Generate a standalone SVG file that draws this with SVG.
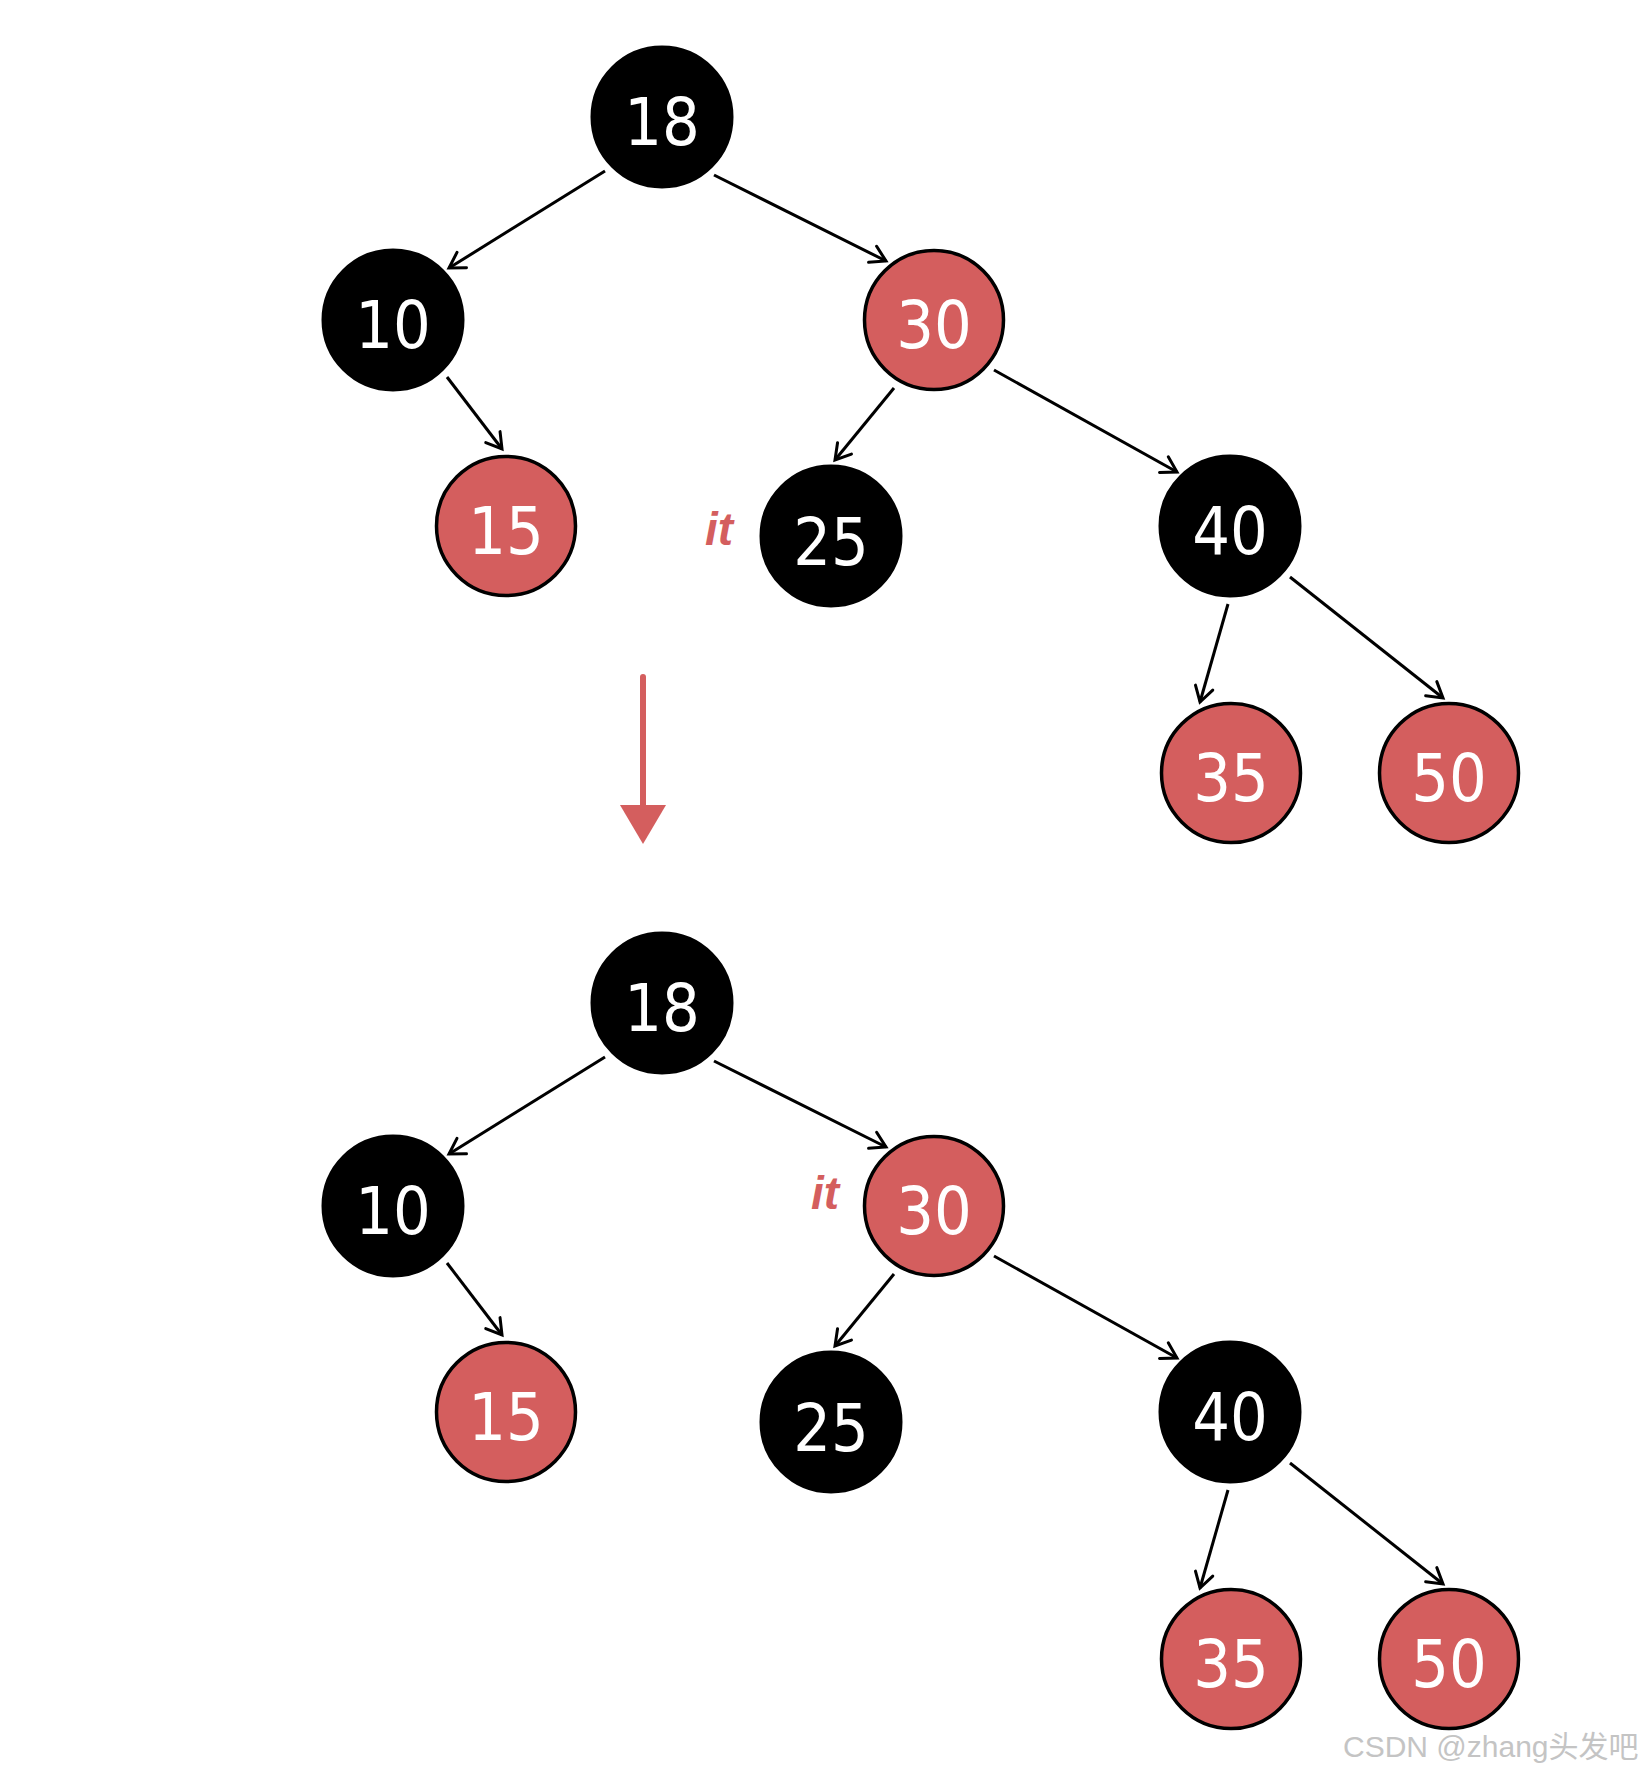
<svg xmlns="http://www.w3.org/2000/svg" width="1640" height="1775" viewBox="0 0 1640 1775">
<style>
.b{fill:#000;stroke:#000;stroke-width:3}
.r{fill:#d45e5e;stroke:#000;stroke-width:3.5}
.n{font-family:"DejaVu Sans Condensed","DejaVu Sans",sans-serif;font-stretch:condensed;font-size:66px;fill:#fff;text-anchor:middle}
.e{stroke:#000;stroke-width:3;fill:none;marker-end:url(#ah)}
.it{font-family:"Liberation Sans",Arial,sans-serif;font-style:italic;font-weight:bold;font-size:46px;fill:#d45e5e}
.wm{font-family:"Liberation Sans","Noto Sans CJK SC",sans-serif;font-size:30px;fill:#c4c4c4}
</style>
<defs>
<marker id="ah" markerUnits="userSpaceOnUse" markerWidth="24" markerHeight="24" viewBox="0 0 24 24" refX="20" refY="12" orient="auto">
<path d="M5,3 L20,12 L5,21" fill="none" stroke="#000" stroke-width="3" stroke-linecap="round" stroke-linejoin="miter"/>
</marker>
</defs>
<g id="connectors">
<line class="e" x1="605" y1="171" x2="449" y2="268"/>
<line class="e" x1="714" y1="175" x2="886" y2="261"/>
<line class="e" x1="447" y1="377" x2="502" y2="449"/>
<line class="e" x1="894" y1="388" x2="835" y2="460"/>
<line class="e" x1="994" y1="370" x2="1177" y2="472"/>
<line class="e" x1="1228" y1="604" x2="1200" y2="702"/>
<line class="e" x1="1290" y1="577" x2="1443" y2="698"/>
<line class="e" x1="605" y1="1057" x2="449" y2="1154"/>
<line class="e" x1="714" y1="1061" x2="886" y2="1147"/>
<line class="e" x1="447" y1="1263" x2="502" y2="1335"/>
<line class="e" x1="894" y1="1274" x2="835" y2="1346"/>
<line class="e" x1="994" y1="1256" x2="1177" y2="1358"/>
<line class="e" x1="1228" y1="1490" x2="1200" y2="1588"/>
<line class="e" x1="1290" y1="1463" x2="1443" y2="1584"/>
</g>
<g id="transition-arrow">
<line x1="643" y1="677" x2="643" y2="810" stroke="#d45e5e" stroke-width="6" stroke-linecap="round"/>
<polygon points="620,805 666,805 643,844" fill="#d45e5e"/>
</g>
<g id="n18a"><circle class="b" cx="662" cy="117" r="70"/><text class="n" x="662" y="145">18</text></g>
<g id="n10a"><circle class="b" cx="393" cy="320" r="70"/><text class="n" x="393" y="348">10</text></g>
<g id="n30a"><circle class="r" cx="934" cy="320" r="69.5"/><text class="n" x="934" y="348">30</text></g>
<g id="n15a"><circle class="r" cx="506" cy="526" r="69.5"/><text class="n" x="506" y="554">15</text></g>
<g id="n25a"><circle class="b" cx="831" cy="536" r="70"/><text class="n" x="831" y="565">25</text></g>
<g id="n40a"><circle class="b" cx="1230" cy="526" r="70"/><text class="n" x="1230" y="554">40</text></g>
<g id="n35a"><circle class="r" cx="1231" cy="773" r="69.5"/><text class="n" x="1231" y="801">35</text></g>
<g id="n50a"><circle class="r" cx="1449" cy="773" r="69.5"/><text class="n" x="1449" y="801">50</text></g>
<g id="it-a"><text class="it" x="705" y="545">it</text></g>
<g id="n18b"><circle class="b" cx="662" cy="1003" r="70"/><text class="n" x="662" y="1031">18</text></g>
<g id="n10b"><circle class="b" cx="393" cy="1206" r="70"/><text class="n" x="393" y="1234">10</text></g>
<g id="n30b"><circle class="r" cx="934" cy="1206" r="69.5"/><text class="n" x="934" y="1234">30</text></g>
<g id="n15b"><circle class="r" cx="506" cy="1412" r="69.5"/><text class="n" x="506" y="1440">15</text></g>
<g id="n25b"><circle class="b" cx="831" cy="1422" r="70"/><text class="n" x="831" y="1451">25</text></g>
<g id="n40b"><circle class="b" cx="1230" cy="1412" r="70"/><text class="n" x="1230" y="1440">40</text></g>
<g id="n35b"><circle class="r" cx="1231" cy="1659" r="69.5"/><text class="n" x="1231" y="1687">35</text></g>
<g id="n50b"><circle class="r" cx="1449" cy="1659" r="69.5"/><text class="n" x="1449" y="1687">50</text></g>
<g id="it-b"><text class="it" x="811" y="1209">it</text></g>
<text class="wm" x="1343" y="1757">CSDN @zhang头发吧</text>
</svg>
